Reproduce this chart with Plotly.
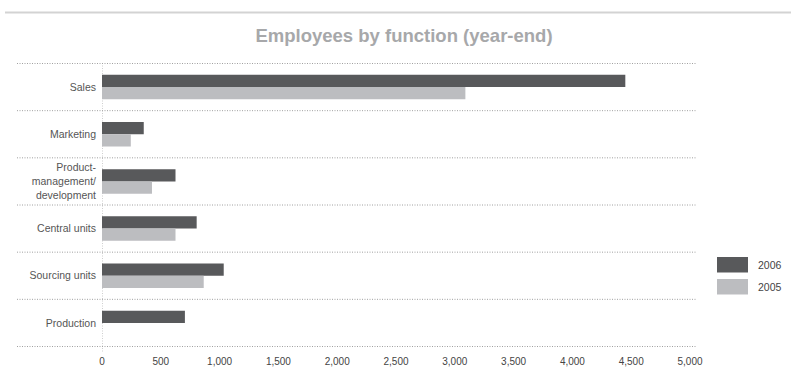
import plotly.graph_objects as go

categories = ["Sales", "Marketing", "Product-<br>management/<br>development",
              "Central units", "Sourcing units", "Production"]
values_2006 = [4450, 355, 625, 805, 1035, 705]
values_2005 = [3090, 245, 425, 625, 865, None]
x_ticks = [0, 500, 1000, 1500, 2000, 2500, 3000, 3500, 4000, 4500, 5000]
x_tick_labels = ["0", "500", "1,000", "1,500", "2,000", "2,500",
                 "3,000", "3,500", "4,000", "4,500", "5,000"]

DARK = "#58595b"
LIGHT = "#bcbdc0"
FONT = "Liberation Sans, Arial, sans-serif"

W, H = 791, 370
L, R, T, B = 102, 101, 63, 23
plot_w = W - L - R
plot_h = H - T - B

fig = go.Figure()
fig.add_trace(go.Bar(y=categories, x=values_2006, orientation="h", name="2006",
                     marker=dict(color=DARK, line=dict(width=0))))
fig.add_trace(go.Bar(y=categories, x=values_2005, orientation="h", name="2005",
                     marker=dict(color=LIGHT, line=dict(width=0))))

DOT = dict(color="#a0a0a0", width=1, dash="1px,1.5px")
shapes = []
# horizontal dotted separators
for i in range(len(categories) + 1):
    shapes.append(dict(type="line", xref="paper", yref="y",
                       x0=(17 - L) / plot_w, x1=(696 - L) / plot_w,
                       y0=i - 0.5, y1=i - 0.5, line=DOT, layer="below"))
# vertical dotted axis line
shapes.append(dict(type="line", xref="x", yref="paper", x0=0, x1=0,
                   y0=1, y1=-6 / plot_h, line=DOT, layer="below"))
# top rule
shapes.append(dict(type="line", xref="paper", yref="paper",
                   x0=(5 - L) / plot_w, x1=(791 - L) / plot_w,
                   y0=1 + (T - 12.5) / plot_h, y1=1 + (T - 12.5) / plot_h,
                   line=dict(color="#d3d3d3", width=2)))

# legend swatches
def px_x(x):
    return (x - L) / plot_w

def px_y(y):
    return 1 - (y - T) / plot_h

legend_items = [("2006", DARK, 257, 272.5), ("2005", LIGHT, 279, 294.5)]
annotations = []
for label, col, y0, y1 in legend_items:
    shapes.append(dict(type="rect", xref="paper", yref="paper",
                       x0=px_x(717), x1=px_x(748), y0=px_y(y1), y1=px_y(y0),
                       fillcolor=col, line=dict(width=0)))
    annotations.append(dict(xref="paper", yref="paper", x=px_x(756),
                            y=px_y((y0 + y1) / 2), text=label, showarrow=False,
                            xanchor="left", yanchor="middle",
                            font=dict(family=FONT, size=10.5, color="#444444")))

fig.update_layout(
    width=W, height=H,
    margin=dict(l=L, r=R, t=T, b=B, pad=0, autoexpand=False),
    paper_bgcolor="white", plot_bgcolor="white",
    barmode="group", bargap=0.48, bargroupgap=0,
    showlegend=False,
    title=dict(text="<b>Employees by function (year-end)</b>",
               x=404 / W, xref="container", xanchor="center",
               y=1 - 36 / H, yref="container", yanchor="middle",
               font=dict(family=FONT, size=18.5, color="#a7a8aa")),
    xaxis=dict(range=[0, 5000], tickvals=x_ticks, ticktext=x_tick_labels,
               showgrid=False, zeroline=False, showline=False, ticks="",
               ticklabelstandoff=7, automargin=False,
               tickfont=dict(family=FONT, size=10, color="#444444"),
               fixedrange=True),
    yaxis=dict(categoryorder="array", categoryarray=categories,
               autorange="reversed", showgrid=False, zeroline=False,
               showline=False, ticks="", ticklabelstandoff=5, automargin=False,
               tickfont=dict(family=FONT, size=10.5, color="#555555")),
    shapes=shapes,
    annotations=annotations,
    font=dict(family=FONT),
)

fig.write_html("out.html")
